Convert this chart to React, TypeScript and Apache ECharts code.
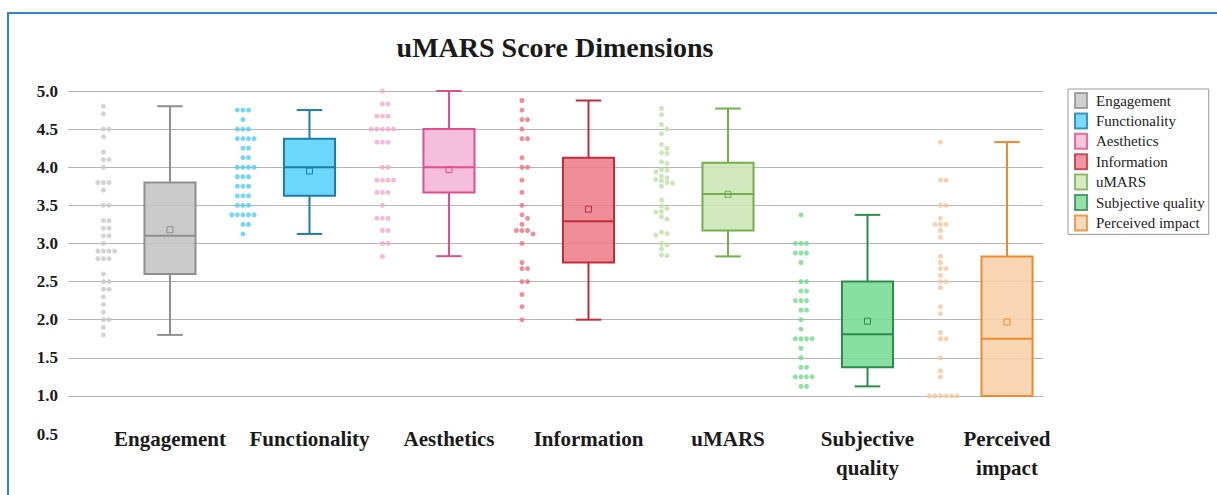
import React, { useEffect, useRef } from 'react';
import * as echarts from 'echarts';

// ---- data ---------------------------------------------------------------
const categories = [
  'Engagement',
  'Functionality',
  'Aesthetics',
  'Information',
  'uMARS',
  'Subjective quality',
  'Perceived impact',
];
const axisLabels = [
  'Engagement',
  'Functionality',
  'Aesthetics',
  'Information',
  'uMARS',
  'Subjective\nquality',
  'Perceived\nimpact',
];
const yTicks = [0.5, 1.0, 1.5, 2.0, 2.5, 3.0, 3.5, 4.0, 4.5, 5.0];

// five-number summaries: [min, Q1, median, Q3, max]
const engagementBox = [1.8, 2.6, 3.1, 3.8, 4.8];
const functionalityBox = [3.125, 3.625, 4.0, 4.375, 4.75];
const aestheticsBox = [2.833, 3.667, 4.0, 4.5, 5.0];
const informationBox = [2.0, 2.75, 3.29, 4.125, 4.875];
const umarsBox = [2.83, 3.17, 3.65, 4.06, 4.77];
const subjectiveBox = [1.125, 1.375, 1.81, 2.5, 3.375];
const perceivedBox = [1.0, 1.0, 1.75, 2.83, 4.33];
const means = [3.18, 3.95, 3.97, 3.45, 3.645, 1.98, 1.97];

// individual app scores
const engagementScores = [
  4.8, 4.7, 4.5, 4.5, 4.4, 4.2, 4.1, 4.1, 4.0, 3.8, 3.8, 3.8, 3.7, 3.5, 3.5,
  3.3, 3.3, 3.2, 3.2, 3.1, 3.1, 3.0, 2.9, 2.9, 2.9, 2.9, 2.8, 2.8, 2.8, 2.6,
  2.5, 2.5, 2.4, 2.4, 2.3, 2.2, 2.1, 2.0, 2.0, 1.9, 1.8,
];
const functionalityScores = [
  4.75, 4.75, 4.75, 4.625, 4.5, 4.5, 4.5, 4.375, 4.375, 4.375, 4.375, 4.25,
  4.25, 4.125, 4.125, 4.0, 4.0, 4.0, 4.0, 3.875, 3.875, 3.875, 3.75, 3.75,
  3.75, 3.625, 3.625, 3.625, 3.5, 3.5, 3.5, 3.375, 3.375, 3.375, 3.375,
  3.375, 3.25, 3.25, 3.125,
];
const aestheticsScores = [
  5.0, 4.83, 4.83, 4.67, 4.67, 4.67, 4.5, 4.5, 4.5, 4.5, 4.5, 4.33, 4.33,
  4.33, 4.0, 4.0, 3.83, 3.83, 3.83, 3.83, 3.67, 3.67, 3.67, 3.5, 3.33, 3.33,
  3.33, 3.17, 3.17, 3.0, 3.0, 2.83,
];
const informationScores = [
  4.875, 4.75, 4.625, 4.625, 4.5, 4.375, 4.375, 4.125, 4.0, 4.0, 3.83, 3.67,
  3.5, 3.375, 3.33, 3.25, 3.17, 3.17, 3.17, 3.125, 3.0, 2.75, 2.67, 2.67,
  2.5, 2.5, 2.33, 2.17, 2.0,
];
const umarsScores = [
  4.77, 4.69, 4.56, 4.5, 4.44, 4.3, 4.25, 4.19, 4.18, 4.07, 4.05, 3.97, 3.96,
  3.94, 3.88, 3.86, 3.84, 3.82, 3.8, 3.79, 3.75, 3.57, 3.49, 3.46, 3.42,
  3.41, 3.35, 3.32, 3.15, 3.13, 3.11, 3.0, 2.98, 2.93, 2.85, 2.84,
];
const subjectiveScores = [
  3.375, 3.0, 3.0, 3.0, 2.875, 2.875, 2.875, 2.75, 2.5, 2.5, 2.375, 2.375,
  2.25, 2.25, 2.25, 2.125, 2.125, 2.0, 1.875, 1.75, 1.75, 1.75, 1.75, 1.625,
  1.5, 1.375, 1.375, 1.25, 1.25, 1.25, 1.25, 1.125, 1.125,
];
const perceivedScores = [
  4.33, 3.83, 3.83, 3.5, 3.5, 3.33, 3.25, 3.25, 3.25, 3.17, 3.08, 2.83, 2.75,
  2.67, 2.67, 2.58, 2.5, 2.5, 2.42, 2.17, 2.08, 1.83, 1.75, 1.75, 1.5, 1.33,
  1.25, 1.0, 1.0, 1.0, 1.0, 1.0, 1.0,
];

const boxes = [
  engagementBox, functionalityBox, aestheticsBox, informationBox,
  umarsBox, subjectiveBox, perceivedBox,
];
const scores = [
  engagementScores, functionalityScores, aestheticsScores, informationScores,
  umarsScores, subjectiveScores, perceivedScores,
];

// ---- styling ------------------------------------------------------------
const boxFill = ['#c4c4c4', '#55d2fb', '#f4b5d5', '#ec7d87', '#cce5b5', '#78db95', '#f8d0a9'];
const boxStroke = ['#8f8f8f', '#1c7ea6', '#de4f8c', '#bf2d3d', '#73b049', '#2e8b4d', '#ee8a2d'];
const dotColor = ['#c8c8c8', '#52cdf5', '#f2a9cb', '#e8737f', '#bfe0a6', '#6edc8d', '#f6c79c'];

const SERIF = '"Liberation Serif", "DejaVu Serif", serif';
const BOX_WIDTH = 0.366; // in category units
const STRIP_OFFSET = -0.477; // dot strip sits left of its box
const JITTER_STEP = 0.04; // horizontal spacing between side-by-side dots
const JITTER_GAP = 0.06; // values closer than this share a row

function rgba(hex: string, a: number) {
  const n = parseInt(hex.slice(1), 16);
  return `rgba(${(n >> 16) & 255},${(n >> 8) & 255},${n & 255},${a})`;
}

// Simple deterministic swarm: each dot takes the nearest free slot
// (0, +1, -1, +2, -2 ...) that does not collide with dots of similar value.
function swarm(values: number[], center: number) {
  const placed: { slot: number; v: number }[] = [];
  return values.map((v) => {
    let k = 0;
    let slot = 0;
    for (;;) {
      slot = k === 0 ? 0 : (k % 2 === 1 ? 1 : -1) * Math.ceil(k / 2);
      const s = slot;
      if (!placed.some((p) => p.slot === s && Math.abs(p.v - v) < JITTER_GAP)) break;
      k++;
    }
    placed.push({ slot, v });
    return [center + slot * JITTER_STEP, v];
  });
}

export default function App() {
  const ref = useRef<HTMLDivElement>(null);

  useEffect(() => {
    if (!ref.current) return;
    const chart = echarts.init(ref.current, undefined, { renderer: 'svg' });

    const dotSeries = categories.map((name, i) => ({
      name,
      type: 'scatter',
      symbol: 'circle',
      symbolSize: 5,
      itemStyle: { color: dotColor[i] },
      data: swarm(scores[i], i + 1 + STRIP_OFFSET),
      z: 3,
    }));

    const boxData = boxes.map((b, i) => [i + 1, ...b, means[i]]);

    const boxSeries = {
      name: 'boxes',
      type: 'custom',
      z: 4,
      encode: { x: 0, y: [1, 2, 3, 4, 5, 6] },
      data: boxData,
      renderItem: (params: any, api: any) => {
        const i = params.dataIndex;
        const x = api.value(0);
        const pt = (v: number) => api.coord([x, v]);
        const [cx, yMin] = pt(api.value(1));
        const yQ1 = pt(api.value(2))[1];
        const yMed = pt(api.value(3))[1];
        const yQ3 = pt(api.value(4))[1];
        const yMax = pt(api.value(5))[1];
        const yMean = pt(api.value(6))[1];
        const halfW = api.size([BOX_WIDTH, 0])[0] / 2;
        const cap = halfW / 2;
        const stroke = boxStroke[i];
        const ls = { stroke, lineWidth: 2 };
        return {
          type: 'group',
          children: [
            { type: 'line', shape: { x1: cx, y1: yMax, x2: cx, y2: yQ3 }, style: ls },
            { type: 'line', shape: { x1: cx, y1: yQ1, x2: cx, y2: yMin }, style: ls },
            { type: 'line', shape: { x1: cx - cap, y1: yMax, x2: cx + cap, y2: yMax }, style: ls },
            { type: 'line', shape: { x1: cx - cap, y1: yMin, x2: cx + cap, y2: yMin }, style: ls },
            {
              type: 'rect',
              shape: { x: cx - halfW, y: yQ3, width: halfW * 2, height: yQ1 - yQ3 },
              style: { fill: rgba(boxFill[i], 0.88), stroke, lineWidth: 2 },
            },
            { type: 'line', shape: { x1: cx - halfW, y1: yMed, x2: cx + halfW, y2: yMed }, style: ls },
            {
              type: 'rect',
              shape: { x: cx - 3, y: yMean - 3, width: 6, height: 6 },
              style: { fill: 'none', stroke, lineWidth: 1 },
            },
          ],
        };
      },
    };

    chart.setOption({
      animation: false,
      backgroundColor: '#ffffff',
      title: {
        text: 'uMARS Score Dimensions',
        left: 555,
        top: 33,
        padding: 0,
        textAlign: 'center',
        textStyle: { fontFamily: SERIF, fontWeight: 'bold', fontSize: 28, color: '#1a1a1a' },
      },
      legend: {
        orient: 'vertical',
        left: 1068,
        top: 89,
        padding: [3, 4, 3, 6],
        itemWidth: 12,
        itemHeight: 15,
        itemGap: 3.4,
        borderColor: '#999999',
        borderWidth: 1,
        textStyle: {
          fontFamily: SERIF,
          fontSize: 15,
          lineHeight: 17,
          color: '#222222',
          padding: [0, 0, 0, 4],
        },
        data: categories.map((name, i) => ({
          name,
          icon: 'rect',
          itemStyle: { color: boxFill[i], borderColor: boxStroke[i], borderWidth: 2 },
        })),
      },
      graphic: [
        {
          type: 'rect',
          shape: { x: 8, y: 13, width: 1400, height: 700 },
          style: { fill: 'none', stroke: '#2a8ac6', lineWidth: 2 },
          silent: true,
        },
      ],
      grid: { left: 68, right: 174, top: 91, bottom: 61 },
      xAxis: {
        type: 'value',
        min: 0.269,
        max: 7.258,
        axisLine: { show: false },
        axisTick: { show: false },
        splitLine: { show: false },
        axisLabel: {
          customValues: [1, 2, 3, 4, 5, 6, 7],
          formatter: (v: number) => axisLabels[Math.round(v) - 1] ?? '',
          fontFamily: SERIF,
          fontWeight: 'bold',
          fontSize: 21,
          lineHeight: 29,
          color: '#1a1a1a',
          margin: -10,
        },
      },
      yAxis: {
        type: 'value',
        min: yTicks[0],
        max: yTicks[yTicks.length - 1],
        interval: 0.5,
        axisLine: { show: false },
        axisTick: { show: false },
        splitLine: { show: true, showMinLine: false, lineStyle: { color: '#b5b5b5', width: 1 } },
        axisLabel: {
          formatter: (v: number) => v.toFixed(1),
          fontFamily: SERIF,
          fontWeight: 'bold',
          fontSize: 17,
          color: '#1a1a1a',
          margin: 10,
        },
      },
      series: [...dotSeries, boxSeries],
    });

    return () => chart.dispose();
  }, []);

  return (
    <div
      ref={ref}
      style={{ position: 'fixed', left: 0, top: 0, width: 1217, height: 495, background: '#fff' }}
    />
  );
}
